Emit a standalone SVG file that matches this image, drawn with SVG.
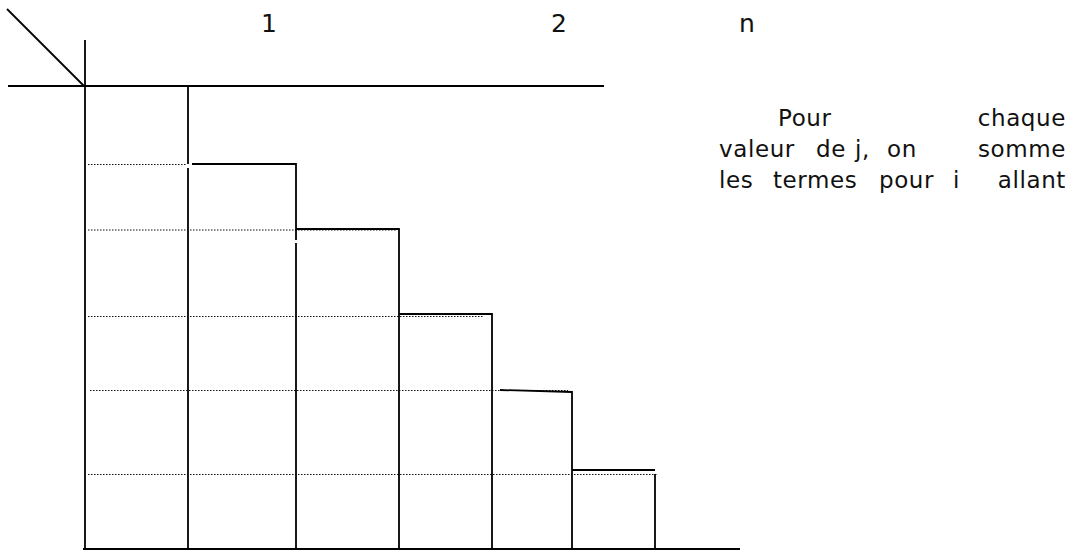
<svg xmlns="http://www.w3.org/2000/svg" width="1071" height="551" viewBox="0 0 1071 551">
<style>
.s{stroke:#000;stroke-width:1.8;fill:none;stroke-linecap:butt}
.d{stroke:#111;stroke-width:1;fill:none;stroke-dasharray:1.5 1.5}
.t{font-family:"DejaVu Sans",Verdana,sans-serif;font-size:23px;letter-spacing:0.6px;fill:#111}
.h{font-family:"DejaVu Sans",Verdana,sans-serif;font-size:25px;fill:#111}
</style>
<rect width="1071" height="551" fill="#fff"/>
<g id="grid">
<line class="s" x1="7" y1="9" x2="84" y2="86"/>
<line class="s" x1="8" y1="86" x2="604" y2="86"/>
<line class="s" x1="85" y1="40" x2="85" y2="549"/>
<line class="s" x1="83" y1="549" x2="740" y2="549"/>
<line class="s" x1="188" y1="86" x2="188" y2="164"/>
<line class="s" x1="188" y1="168" x2="188" y2="549"/>
</g>
<g id="dotted">
<line class="d" x1="88" y1="164.5" x2="187" y2="164.5"/>
<line class="d" x1="88" y1="230" x2="396" y2="230"/>
<line class="d" x1="88" y1="316.5" x2="484" y2="316.5"/>
<line class="d" x1="90" y1="390.5" x2="568" y2="390.5"/>
<line class="d" x1="88" y1="474.5" x2="658" y2="474.5"/>
</g>
<g id="steps">
<polyline class="s" points="192,164 296,164 296,240"/>
<line class="s" x1="296" y1="243" x2="296" y2="549"/>
<polyline class="s" points="296,229 399,229 399,549"/>
<polyline class="s" points="399,314 492,314 492,549"/>
<polyline class="s" points="500,390 572,392 572,549"/>
<line class="s" x1="572" y1="470" x2="655" y2="470"/>
<line class="s" x1="655" y1="474" x2="655" y2="549"/>
</g>
<g id="labels">
<text class="h" x="261" y="32">1</text>
<text class="h" x="551" y="32">2</text>
<text class="h" x="739" y="32">n</text>
</g>
<g id="note">
<text class="t" x="778" y="126">Pour</text>
<text class="t" x="1066" y="126" text-anchor="end">chaque</text>
<text class="t" x="719" y="157">valeur</text>
<text class="t" x="816" y="157">de</text>
<text class="t" x="855" y="157">j,</text>
<text class="t" x="887" y="157">on</text>
<text class="t" x="1066" y="157" text-anchor="end">somme</text>
<text class="t" x="719" y="188">les</text>
<text class="t" x="773" y="188">termes</text>
<text class="t" x="879" y="188">pour</text>
<text class="t" x="953" y="188">i</text>
<text class="t" x="1066" y="188" text-anchor="end">allant</text>
</g>
</svg>
